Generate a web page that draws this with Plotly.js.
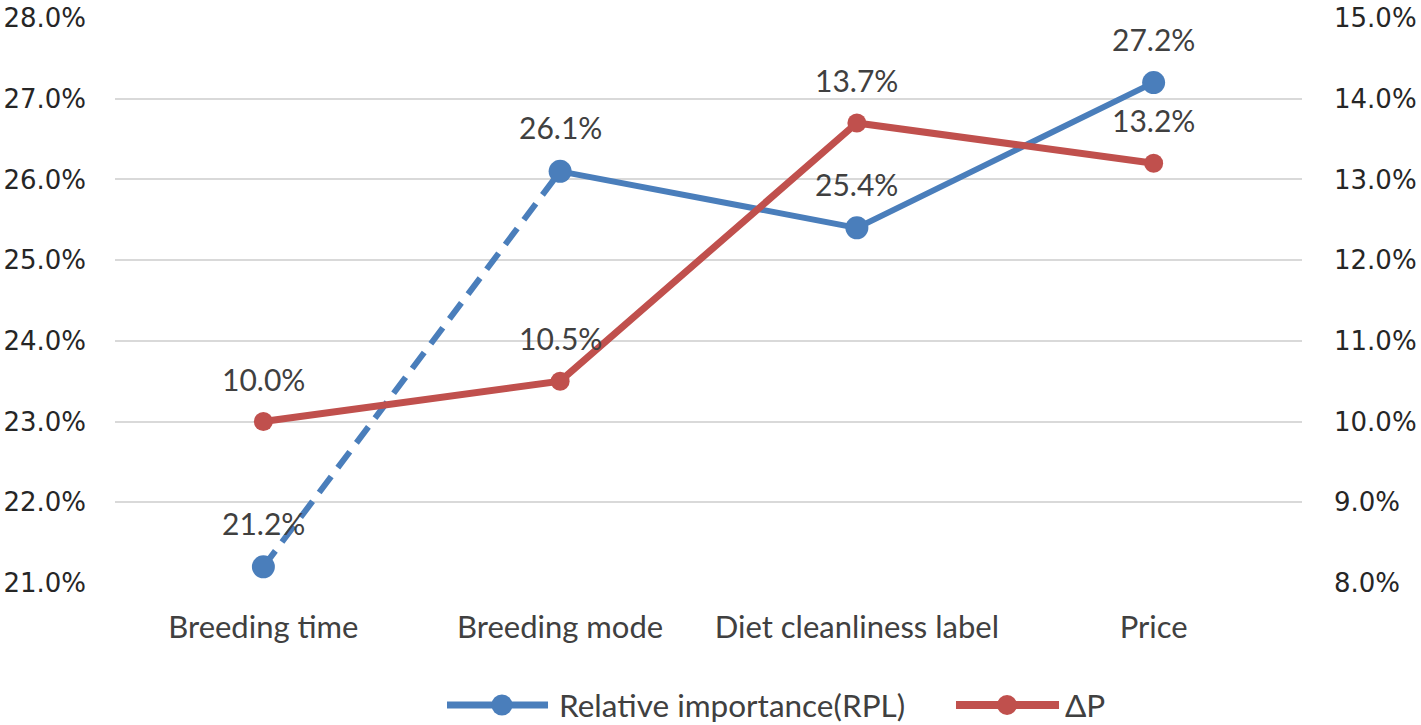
<!DOCTYPE html>
<html>
<head>
<meta charset="utf-8">
<script src="https://cdn.plot.ly/plotly-3.0.1.min.js"></script>
<style>html,body{margin:0;padding:0;background:#fff;}#chart{width:1421px;height:725px;}</style>
</head>
<body>
<div id="chart"></div>
<script>
var categories = ["Breeding time", "Breeding mode", "Diet cleanliness label", "Price"];
var rplValues = [21.2, 26.1, 25.4, 27.2];
var deltaPValues = [10.0, 10.5, 13.7, 13.2];
var leftTicks = [21, 22, 23, 24, 25, 26, 27, 28];
var rightTicks = [8, 9, 10, 11, 12, 13, 14, 15];
var seriesNames = ["Relative importance(RPL)", "\u0394P"];

var BLUE = "#4A7EBB", RED = "#C0504D";
var lblFont = "Lato, 'Open Sans', sans-serif";
var tickFont = "'DejaVu Sans', sans-serif";
function pct(v){ return v.toFixed(1) + "%"; }

var traces = [
  { x: categories.slice(0,2), y: rplValues.slice(0,2), mode: "lines", yaxis: "y",
    line: {color: BLUE, width: 6, dash: "20px,11px"}, showlegend: false, hoverinfo: "skip" },
  { x: categories.slice(1), y: rplValues.slice(1), mode: "lines", yaxis: "y", name: seriesNames[0],
    line: {color: BLUE, width: 6}, showlegend: false },
  { x: categories, y: rplValues, mode: "markers", yaxis: "y", showlegend: false,
    marker: {color: BLUE, size: 23} },
  { x: categories, y: deltaPValues, mode: "lines+markers", yaxis: "y2", name: seriesNames[1],
    line: {color: RED, width: 7}, marker: {color: RED, size: 19}, showlegend: false }
];

var annotations = [];
categories.forEach(function(c, i){
  annotations.push({x: c, y: rplValues[i], yref: "y", xref: "x", text: pct(rplValues[i]), showarrow: false,
    yshift: 44, font: {family: lblFont, size: 30, color: "#404040"}});
  annotations.push({x: c, y: deltaPValues[i], yref: "y2", xref: "x", text: pct(deltaPValues[i]), showarrow: false,
    yshift: 43, font: {family: lblFont, size: 30, color: "#404040"}});
});

// manual legend (paper coordinates)
var legY = -0.216;
var legItems = [
  {name: seriesNames[0], color: BLUE, x0: 0.2797, x1: 0.3648, xm: 0.3260, xt: 0.3724, lw: 7, ms: 21},
  {name: seriesNames[1], color: RED, x0: 0.7085, x1: 0.7953, xm: 0.7515, xt: 0.7987, lw: 8, ms: 20}
];
var shapes = [];
legItems.forEach(function(it){
  shapes.push({type: "line", xref: "paper", yref: "paper", x0: it.x0, x1: it.x1, y0: legY, y1: legY,
    line: {color: it.color, width: it.lw}});
  shapes.push({type: "circle", xref: "paper", yref: "paper", xsizemode: "pixel", ysizemode: "pixel",
    xanchor: it.xm, yanchor: legY, x0: -it.ms/2, x1: it.ms/2, y0: -it.ms/2, y1: it.ms/2,
    fillcolor: it.color, line: {color: it.color, width: 0}});
  annotations.push({xref: "paper", yref: "paper", x: it.xt, y: legY, xanchor: "left", yanchor: "middle",
    text: it.name, showarrow: false, font: {family: lblFont, size: 31.5, color: "#404040"}});
});

var layout = {
  width: 1421, height: 725,
  margin: {l: 115, r: 119, t: 18, b: 142, autoexpand: false},
  paper_bgcolor: "#fff", plot_bgcolor: "#fff",
  showlegend: false,
  xaxis: {type: "category", range: [-0.5, 3.5], showgrid: false, zeroline: false, showline: false, ticks: "",
    tickfont: {family: lblFont, size: 31, color: "#404040"}, ticklabelstandoff: 23},
  yaxis: {range: [21, 28], tickvals: leftTicks, ticktext: leftTicks.map(function(v){return pct(v);}),
    showgrid: true, gridcolor: "#D9D9D9", gridwidth: 2, zeroline: false, showline: false, ticks: "",
    tickfont: {family: tickFont, size: 26, color: "#262626"}, ticklabelstandoff: 28},
  yaxis2: {range: [8, 15], overlaying: "y", side: "right", tickvals: rightTicks,
    ticktext: rightTicks.map(function(v){return pct(v);}), showgrid: false, zeroline: false, showline: false, ticks: "",
    tickfont: {family: tickFont, size: 26, color: "#262626"}, ticklabelstandoff: 31},
  shapes: shapes,
  annotations: annotations
};

Plotly.newPlot("chart", traces, layout, {displayModeBar: false, staticPlot: true});
</script>
</body>
</html>
